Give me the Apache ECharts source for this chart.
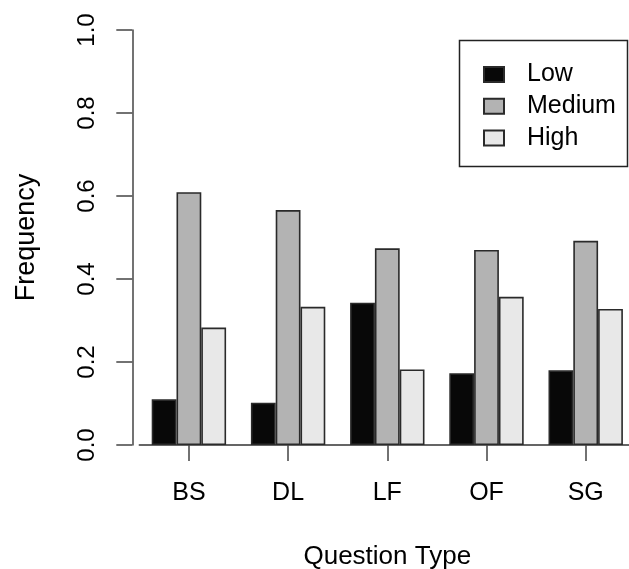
<!DOCTYPE html>
<html>
<head>
<meta charset="utf-8">
<script src="https://cdn.jsdelivr.net/npm/echarts@6/dist/echarts.min.js"></script>
<style>
  html, body { margin: 0; padding: 0; background: #fff; }
  #chart { width: 629px; height: 569px; }
</style>
</head>
<body>
<div id="chart"></div>
<script>
  // question types on the x axis
  const categories = ['BS', 'DL', 'LF', 'OF', 'SG'];
  // frequency per level
  const lowValues = [0.110, 0.102, 0.343, 0.173, 0.180];
  const mediumValues = [0.609, 0.566, 0.474, 0.470, 0.492];
  const highValues = [0.283, 0.333, 0.182, 0.357, 0.328];
  const yTicks = [0, 0.2, 0.4, 0.6, 0.8, 1.0];

  const font = '"Liberation Sans", Arial, sans-serif';
  const border = { borderColor: '#2a2a2a', borderWidth: 1.6 };

  let chart = echarts.init(document.getElementById('chart'));
  let option = {
    animation: false,
    backgroundColor: '#fff',
    textStyle: { fontFamily: font },
    grid: {
      left: 139.3,
      top: 30,
      width: 496,
      height: 415,
      containLabel: false,
      outerBoundsMode: 'none'
    },
    legend: {
      orient: 'vertical',
      left: 478,
      top: 57,
      itemWidth: 20,
      itemHeight: 15,
      itemGap: 6.7,
      icon: 'rect',
      textStyle: {
        fontFamily: font,
        fontSize: 25,
        color: '#000',
        padding: [0, 0, 0, 18]
      },
      data: ['Low', 'Medium', 'High']
    },
    graphic: [{
      type: 'rect',
      shape: { x: 459.5, y: 40.5, width: 168, height: 126 },
      style: { fill: 'none', stroke: '#222', lineWidth: 1.5 }
    }],
    xAxis: {
      type: 'category',
      data: categories,
      name: 'Question Type',
      nameLocation: 'middle',
      nameGap: 99,
      nameTextStyle: { fontFamily: font, fontSize: 26, color: '#000' },
      axisLine: { show: true, lineStyle: { color: '#333', width: 1.5 } },
      axisTick: { show: true, alignWithLabel: true, length: 16, lineStyle: { color: '#444', width: 1.5 } },
      axisLabel: { margin: 36, fontSize: 25, color: '#000', fontFamily: font },
      splitLine: { show: false }
    },
    yAxis: {
      type: 'value',
      min: 0,
      max: 1,
      interval: 0.2,
      offset: 7,
      name: 'Frequency',
      nameLocation: 'middle',
      nameGap: 92,
      nameTextStyle: { fontFamily: font, fontSize: 27, color: '#000' },
      axisLine: { show: true, lineStyle: { color: '#444', width: 1.5 } },
      axisTick: { show: true, length: 16, lineStyle: { color: '#444', width: 1.5 } },
      axisLabel: {
        rotate: 90,
        margin: 33,
        fontSize: 24,
        color: '#000',
        fontFamily: font,
        formatter: function (v) { return yTicks.indexOf(v) >= 0 ? v.toFixed(1) : ''; }
      },
      splitLine: { show: false }
    },
    series: [
      {
        name: 'Low', type: 'bar', data: lowValues,
        barGap: '0%', barCategoryGap: '25%',
        itemStyle: Object.assign({ color: '#080808' }, border)
      },
      {
        name: 'Medium', type: 'bar', data: mediumValues,
        barGap: '0%', barCategoryGap: '25%',
        itemStyle: Object.assign({ color: '#b3b3b3' }, border)
      },
      {
        name: 'High', type: 'bar', data: highValues,
        barGap: '0%', barCategoryGap: '25%',
        itemStyle: Object.assign({ color: '#e8e8e8' }, border)
      }
    ]
  };
  chart.setOption(option);
  window.addEventListener('resize', function () {
    chart.resize();
  });
</script>
</body>
</html>
